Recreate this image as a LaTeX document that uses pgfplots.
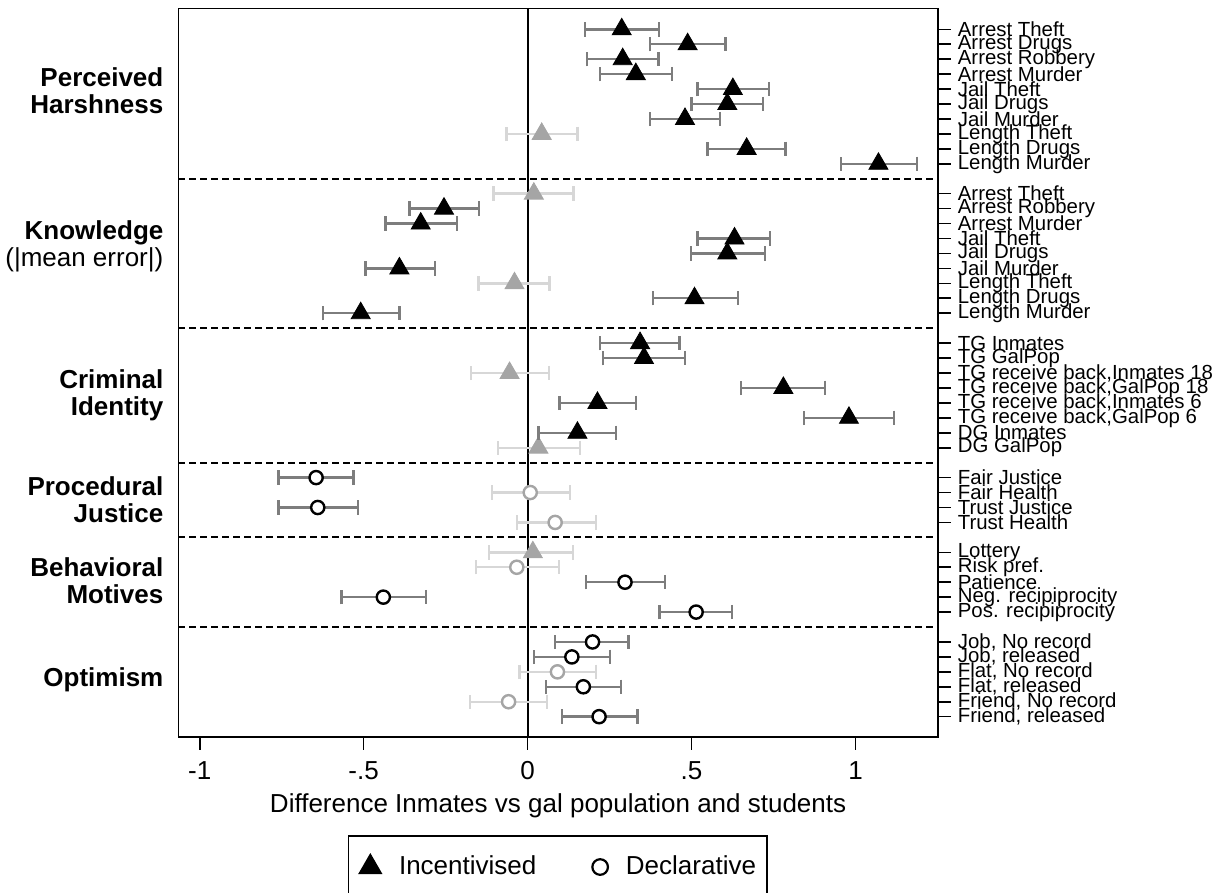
\documentclass[border=0pt]{standalone}
\usepackage{pgfplots}
\pgfplotsset{compat=1.18}
\usepackage{pgfplotstable}
\usepackage{fontspec}
\setmainfont{Liberation Sans}
\definecolor{sigbar}{RGB}{125,125,125}
\definecolor{nsbar}{RGB}{215,215,215}
\definecolor{nsmark}{RGB}{165,165,165}

% y = row (top to bottom), x = estimate, lo/hi = CI
\pgfplotstableread{
y x lo hi
1 0.287 0.175 0.401
2 0.488 0.373 0.604
3 0.290 0.182 0.399
4 0.330 0.221 0.440
5 0.626 0.518 0.736
6 0.609 0.500 0.717
7 0.480 0.373 0.587
9 0.668 0.549 0.787
10 1.070 0.956 1.187
13 -0.255 -0.360 -0.148
14 -0.326 -0.434 -0.216
15 0.631 0.518 0.739
16 0.609 0.498 0.724
17 -0.391 -0.495 -0.282
19 0.509 0.382 0.641
20 -0.509 -0.624 -0.391
22 0.343 0.221 0.463
23 0.355 0.229 0.480
25 0.780 0.650 0.907
26 0.213 0.097 0.331
27 0.980 0.843 1.117
28 0.152 0.033 0.270
}\sigtri

\pgfplotstableread{
y x lo hi
8 0.043 -0.064 0.152
12 0.019 -0.104 0.140
18 -0.040 -0.150 0.067
24 -0.055 -0.172 0.066
29 0.033 -0.091 0.160
36 0.016 -0.117 0.138
}\nstri

\pgfplotstableread{
y x lo hi
31 -0.645 -0.760 -0.531
33 -0.640 -0.760 -0.518
38 0.297 0.178 0.419
39 -0.440 -0.567 -0.310
40 0.514 0.402 0.624
42 0.198 0.084 0.308
43 0.135 0.020 0.252
45 0.170 0.056 0.284
47 0.218 0.104 0.335
}\sigcirc

\pgfplotstableread{
y x lo hi
32 0.008 -0.109 0.130
34 0.084 -0.033 0.208
37 -0.033 -0.157 0.096
44 0.091 -0.025 0.209
46 -0.058 -0.175 0.060
}\nscirc

\begin{document}
\begin{tikzpicture}
\useasboundingbox (0,0) rectangle (615.5pt,446.5pt);
\begin{axis}[
  at={(89.2pt,78.15pt)}, anchor=south west,
  scale only axis, width=379.7pt, height=364.2pt,
  xmin=-1.065, xmax=1.251, ymin=-0.406, ymax=48.34,
  y dir=reverse,
  clip mode=individual,
  axis line style={black, line width=0.8pt},
  xtick={-1,-0.5,0,0.5,1},
  xticklabels={-1,-.5,0,.5,1},
  xtick pos=bottom,
  tick align=outside,
  major tick length=6.5pt,
  every tick/.style={black, line width=0.8pt},
  xticklabel style={font=\fontsize{13}{13}\selectfont, yshift=-2.5pt},
  xlabel={Difference Inmates vs gal population and students},
  xlabel style={font=\fontsize{13}{13}\selectfont, yshift=0pt},
  ytick={1,2,3,4,5,6,7,8,9,10,12,13,14,15,16,17,18,19,20,22,23,24,25,26,27,28,29,31,32,33,34,36,37,38,39,40,42,43,44,45,46,47},
  yticklabels={Arrest Theft,Arrest Drugs,Arrest Robbery,Arrest Murder,Jail Theft,Jail Drugs,Jail Murder,Length Theft,Length Drugs,Length Murder,
    Arrest Theft,Arrest Robbery,Arrest Murder,Jail Theft,Jail Drugs,Jail Murder,Length Theft,Length Drugs,Length Murder,
    TG Inmates,TG GalPop,{TG receive back,Inmates 18},{TG receive back,GalPop 18},{TG receive back,Inmates 6},{TG receive back,GalPop 6},DG Inmates,DG GalPop,
    Fair Justice,Fair Health,Trust Justice,Trust Health,
    Lottery,Risk pref.,Patience,Neg. recipiprocity,Pos. recipiprocity,
    {Job, No record},{Job, released},{Flat, No record},{Flat, released},{Friend, No record},{Friend, released}},
  ytick pos=right,
  yticklabel pos=right,
  y tick label style={font=\fontsize{10.2}{10.2}\selectfont},
  legend columns=2,
  legend image code/.code={\draw[#1] plot coordinates {(0pt,0pt)};},
  legend style={at={(0.4996,-0.1789)}, anchor=center, draw=black, line width=0.8pt,
    font=\fontsize{13}{13}\selectfont, inner xsep=5.5pt, inner ysep=8pt,
    nodes={inner xsep=0pt, inner ysep=2pt},
    /tikz/every odd column/.append style={column sep=9pt},
    /tikz/every even column/.append style={column sep=28pt}},
  legend cell align=left,
]
% reference lines
\addplot[black, line width=1pt, forget plot] coordinates {(0,-0.406) (0,48.34)};
\addplot[black, dash pattern=on 3.5pt off 2pt, line width=1pt, forget plot] coordinates {(-1.065,11) (1.251,11)};
\addplot[black, dash pattern=on 3.5pt off 2pt, line width=1pt, forget plot] coordinates {(-1.065,21) (1.251,21)};
\addplot[black, dash pattern=on 3.5pt off 2pt, line width=1pt, forget plot] coordinates {(-1.065,30) (1.251,30)};
\addplot[black, dash pattern=on 3.5pt off 2pt, line width=1pt, forget plot] coordinates {(-1.065,35) (1.251,35)};
\addplot[black, dash pattern=on 3.5pt off 2pt, line width=1pt, forget plot] coordinates {(-1.065,41) (1.251,41)};

% non-significant
\addplot[only marks, forget plot, mark=triangle*, mark size=5.5pt,
  mark options={draw=nsmark, fill=nsmark},
  error bars/.cd, x dir=both, x explicit,
  error bar style={nsbar, line width=1.2pt},
  error mark=|, error mark options={nsbar, line width=1.2pt, mark size=3.6pt}]
  table[x=x, y=y, x error minus expr=\thisrow{x}-\thisrow{lo}, x error plus expr=\thisrow{hi}-\thisrow{x}] {\nstri};
\addplot[only marks, forget plot, mark=*, mark size=3.3pt,
  mark options={draw=nsmark, fill=white, line width=1.2pt},
  error bars/.cd, x dir=both, x explicit,
  error bar style={nsbar, line width=1.2pt},
  error mark=|, error mark options={nsbar, line width=1.2pt, mark size=3.6pt}]
  table[x=x, y=y, x error minus expr=\thisrow{x}-\thisrow{lo}, x error plus expr=\thisrow{hi}-\thisrow{x}] {\nscirc};
% significant
\addplot[only marks, forget plot, mark=triangle*, mark size=5.5pt,
  mark options={draw=black, fill=black},
  error bars/.cd, x dir=both, x explicit,
  error bar style={sigbar, line width=1.2pt},
  error mark=|, error mark options={sigbar, line width=1.2pt, mark size=3.6pt}]
  table[x=x, y=y, x error minus expr=\thisrow{x}-\thisrow{lo}, x error plus expr=\thisrow{hi}-\thisrow{x}] {\sigtri};
\addplot[only marks, forget plot, mark=*, mark size=3.3pt,
  mark options={draw=black, fill=white, line width=1.2pt},
  error bars/.cd, x dir=both, x explicit,
  error bar style={sigbar, line width=1.2pt},
  error mark=|, error mark options={sigbar, line width=1.2pt, mark size=3.6pt}]
  table[x=x, y=y, x error minus expr=\thisrow{x}-\thisrow{lo}, x error plus expr=\thisrow{hi}-\thisrow{x}] {\sigcirc};

\addlegendimage{only marks, mark=triangle*, mark size=6.2pt, black}
\addlegendentry{Incentivised}
\addlegendimage{only marks, mark=o, mark size=3.9pt, black, mark options={line width=1.1pt}}
\addlegendentry{Declarative\hspace{15pt}}

% group labels
\node[anchor=east, align=right, font=\fontsize{13}{13.5}\selectfont\bfseries] at (axis cs:-1.065,5.13) [xshift=-4pt] {Perceived\\Harshness};
\node[anchor=east, align=right, font=\fontsize{13}{13.5}\selectfont] at (axis cs:-1.065,15.55) [xshift=-4pt] {\textbf{Knowledge}\\(|mean error|)};
\node[anchor=east, align=right, font=\fontsize{13}{13.5}\selectfont\bfseries] at (axis cs:-1.065,25.48) [xshift=-4pt] {Criminal\\Identity};
\node[anchor=east, align=right, font=\fontsize{13}{13.5}\selectfont\bfseries] at (axis cs:-1.065,32.5) [xshift=-4pt] {Procedural\\Justice};
\node[anchor=east, align=right, font=\fontsize{13}{13.5}\selectfont\bfseries] at (axis cs:-1.065,37.9) [xshift=-4pt] {Behavioral\\Motives};
\node[anchor=east, align=right, font=\fontsize{13}{13.5}\selectfont\bfseries] at (axis cs:-1.065,44.5) [xshift=-4pt] {Optimism};
\end{axis}
\end{tikzpicture}
\end{document}
